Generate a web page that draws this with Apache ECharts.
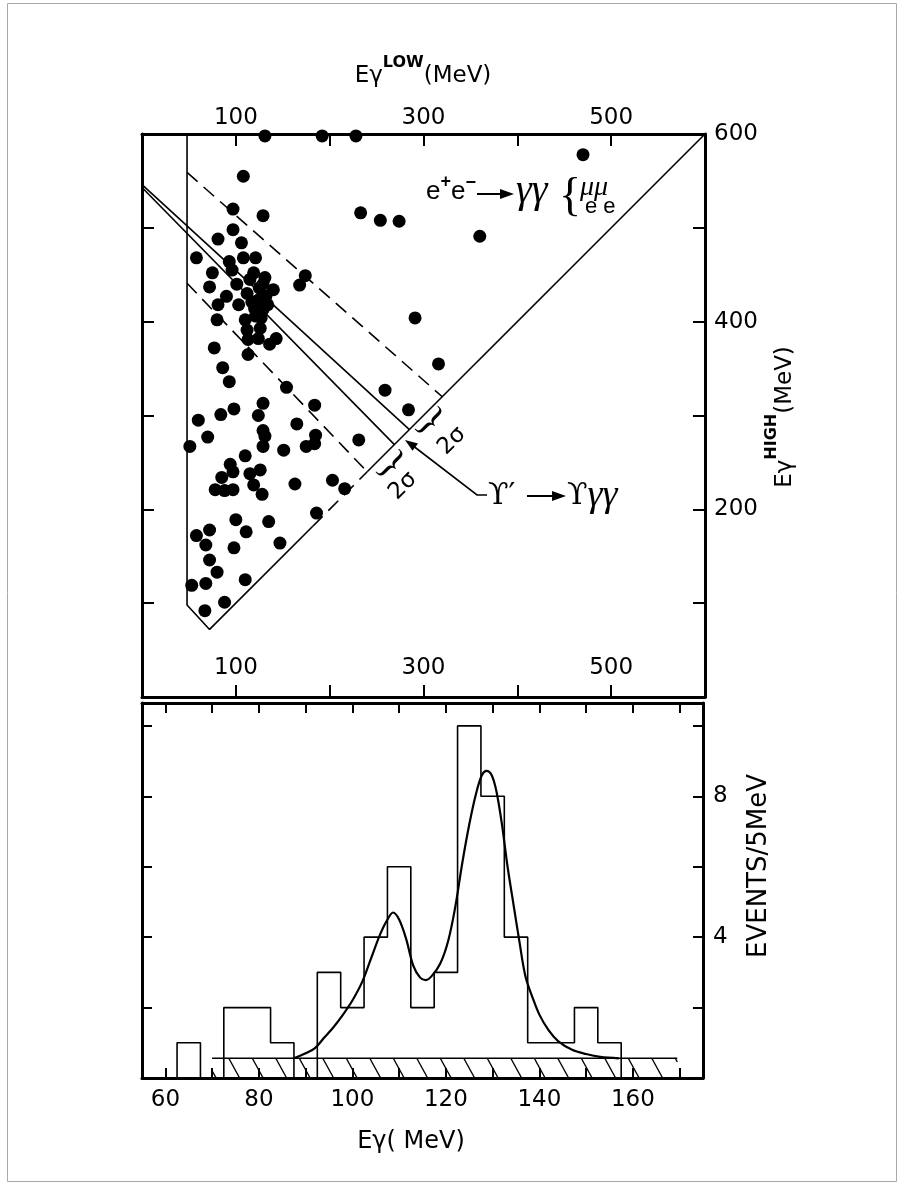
<!DOCTYPE html>
<html>
<head>
<meta charset="utf-8">
<script src="https://cdn.jsdelivr.net/npm/echarts@6.0.0/dist/echarts.min.js"></script>
<style>
html, body { margin: 0; padding: 0; background: #fff; }
#chart { width: 904px; height: 1185px; }
</style>
</head>
<body>
<div id="chart"></div>
<script>
// upper panel: E_gamma^LOW vs E_gamma^HIGH (MeV), one dot per event
var events = [
    [131,598],[192,598],[228,598],
    [470,578],[360,491],[291,404],[316,355],[284,306],
    [108,555],[97,520],[129,513],[233,516],[254,508],[274,507],
    [97,498],[81,488],[106,484],[58,468],
    [93,464],[108,468],[121,468],[96,455],[119,452],[101,440],[129,440],[140,434],
    [90,427],[112,430],[124,423],[81,418],[103,418],[120,414],[129,413],[110,402],
    [126,393],[112,391],[113,381],[124,382],[136,376],[143,382],[80,402],[75,452],
    [72,437],[113,365],[77,372],[86,351],[93,336],[154,330],[174,449],[168,439],
    [129,313],[98,307],[84,301],[124,300],[60,295],[184,311],[259,327],
    [129,284],[131,278],[129,267],[70,277],[51,267],[165,291],[185,279],[175,267],
    [184,270],[231,274],[151,263],[110,257],[94,248],[97,240],[85,234],[115,238],
    [126,242],[119,226],[128,216],[78,221],[88,220],[97,221],[163,227],[203,231],
    [216,222],[100,189],[135,187],[186,196],[111,176],[147,164],[58,172],[72,178],
    [68,162],[98,159],[72,146],[80,133],[110,125],[53,119],[68,121],[88,101],[67,92],
    [115,445],[125,436],[132,427],[117,421],[127,404],[134,418],[121,406],[131,447]
];

// kinematic boundary and the gamma-gamma bands (MeV)
var edgeSolid = [[48,600],[48,98],[72,72],[182,182]];
var edgeDashed = [[182,182],[240,240]];
var diagonal = [[240,240],[600,600]];
var bandUpperSolid = [[0,546],[285,285]];
var bandLowerSolid = [[0,543],[269,269]];
var bandUpperDashed = [[48,559],[320,320]];
var bandLowerDashed = [[48,441],[240,240]];

// lower panel: events / 5 MeV
var binCenters = [65,70,75,80,85,90,95,100,105,110,115,120,125,130,135,140,145,150,155];
var binCounts  = [1,0,2,2,1,0,3,2,4,6,2,3,10,8,4,1,1,2,1];
var binWidth = 5;
var fitE = [87.5,90,92,94,96,98,100,102,104,106,107.5,108.7,110,111.5,113,114.5,115.7,117,118.8,120.5,
            122,123.5,125,126.5,127.7,128.7,129.8,130.8,132,133.2,134.5,135.7,137,138.5,140,142,144,147,150,153,157];
var fitN = [0.56,0.7,0.85,1.15,1.45,1.8,2.2,2.7,3.4,4.1,4.5,4.7,4.5,3.95,3.2,2.85,2.78,2.9,3.25,3.9,
            4.85,6.1,7.2,8.1,8.6,8.72,8.6,8.15,7.2,6.0,4.9,3.9,2.9,2.3,1.8,1.35,1.05,0.8,0.68,0.6,0.56];
var background = [70, 169.5, 0.56];   // from, to, level

var xTicksLow = [60,70,80,90,100,110,120,130,140,150,160,170];
var xLabelsLow = [60,80,100,120,140,160];

var FONT = '"DejaVu Sans"';
var black = '#000';

function histOutline() {
    var pts = [[binCenters[0] - binWidth / 2, 0]];
    binCenters.forEach(function (c, i) {
        pts.push([c - binWidth / 2, binCounts[i]]);
        pts.push([c + binWidth / 2, binCounts[i]]);
    });
    pts.push([binCenters[binCenters.length - 1] + binWidth / 2, 0]);
    return pts;
}

function frameAxis(extra) {
    var base = {
        axisLine: { show: true, onZero: false, lineStyle: { color: black, width: 3 } },
        axisTick: { show: true, inside: true, length: 12, lineStyle: { color: black, width: 2 } },
        axisLabel: { show: false },
        splitLine: { show: false }
    };
    return echarts.util.merge(base, extra, true);
}

function pickLabel(list) {
    return function (v) { return list.indexOf(v) >= 0 ? String(v) : ''; };
}

function lineSeries(data, dashed, xi, yi) {
    return {
        type: 'line', data: data, xAxisIndex: xi || 0, yAxisIndex: yi || 0,
        showSymbol: false, symbol: 'none', silent: true, z: 3,
        lineStyle: { color: black, width: 1.6, type: dashed ? [14, 8] : 'solid' }
    };
}

// text made of several runs (for superscripts etc.)
var mctx = document.createElement('canvas').getContext('2d');
function fontOf(p) { return (p.style || '') + ' ' + p.size + 'px ' + (p.family || FONT); }
function runText(parts, cx, cy, rot, anchor) {
    var widths = parts.map(function (p) {
        mctx.font = fontOf(p);
        return mctx.measureText(p.t).width + (p.gap || 0);
    });
    var total = widths.reduce(function (a, b) { return a + b; }, 0);
    var x = anchor === 'left' ? 0 : -total / 2;
    var kids = [];
    parts.forEach(function (p, i) {
        kids.push({
            type: 'text', x: x, y: p.dy || 0,
            style: { text: p.t, font: fontOf(p), fill: black, textAlign: 'left',
                     textVerticalAlign: 'middle', verticalAlign: 'middle' }
        });
        x += widths[i];
    });
    return { type: 'group', x: cx, y: cy, rotation: rot || 0, children: kids, silent: true };
}
function glyph(t, font, x, y, rot) {
    return {
        type: 'text', x: x, y: y, rotation: rot || 0, silent: true,
        style: { text: t, font: font, fill: black, textAlign: 'center',
                 textVerticalAlign: 'middle', verticalAlign: 'middle' }
    };
}

var chart = echarts.init(document.getElementById('chart'));

var tickFont = { fontSize: 23, color: black, fontFamily: FONT };

chart.setOption({
    animation: false,
    backgroundColor: '#fff',
    textStyle: { fontFamily: FONT, color: black },
    grid: [
        { left: 142, top: 134, width: 563, height: 563, outerBoundsMode: 'none' },
        { left: 142, top: 703, width: 561, height: 375, outerBoundsMode: 'none' }
    ],
    xAxis: [
        frameAxis({ gridIndex: 0, type: 'value', position: 'bottom', min: 0, max: 600, interval: 100,
            axisLabel: echarts.util.extend({ show: true, inside: true, margin: 17,
                         formatter: pickLabel([100, 300, 500]) }, tickFont) }),
        frameAxis({ gridIndex: 0, type: 'value', position: 'top', min: 0, max: 600, interval: 100,
            axisLabel: echarts.util.extend({ show: true, margin: 4,
                         formatter: pickLabel([100, 300, 500]) }, tickFont) }),
        frameAxis({ gridIndex: 1, type: 'value', position: 'bottom', min: 55, max: 175,
            axisTick: { length: 10, customValues: xTicksLow },
            axisLabel: echarts.util.extend({ show: true, margin: 11,
                         customValues: xLabelsLow }, tickFont) }),
        frameAxis({ gridIndex: 1, type: 'value', position: 'top', min: 55, max: 175,
            axisTick: { length: 10, customValues: xTicksLow } })
    ],
    yAxis: [
        frameAxis({ gridIndex: 0, type: 'value', position: 'left', min: 0, max: 600, interval: 100 }),
        frameAxis({ gridIndex: 0, type: 'value', position: 'right', min: 0, max: 600, interval: 100,
            axisLabel: echarts.util.extend({ show: true, margin: 9,
                         formatter: pickLabel([200, 400, 600]) }, tickFont) }),
        frameAxis({ gridIndex: 1, type: 'value', position: 'left', min: 0, max: 10.65, interval: 2,
            axisTick: { length: 10 } }),
        frameAxis({ gridIndex: 1, type: 'value', position: 'right', min: 0, max: 10.65, interval: 2,
            axisTick: { length: 10 },
            axisLabel: echarts.util.extend({ show: true, margin: 10,
                         formatter: pickLabel([4, 8]) }, tickFont) })
    ],
    series: [
        {
            type: 'scatter', xAxisIndex: 0, yAxisIndex: 0, data: events,
            symbol: 'circle', symbolSize: 13, itemStyle: { color: black, opacity: 1 }, silent: true, z: 4
        },
        lineSeries(edgeSolid, false),
        lineSeries(edgeDashed, true),
        lineSeries(diagonal, false),
        lineSeries(bandUpperSolid, false),
        lineSeries(bandLowerSolid, false),
        lineSeries(bandUpperDashed, true),
        lineSeries(bandLowerDashed, true),
        {
            // hatched background level
            type: 'custom', xAxisIndex: 2, yAxisIndex: 2, silent: true, z: 2,
            data: [background],
            renderItem: function (params, api) {
                var a = api.coord([api.value(0), api.value(2)]);
                var b = api.coord([api.value(1), 0]);
                var x0 = a[0], y0 = a[1], x1 = b[0], y1 = b[1];
                var h = y1 - y0, slant = h * 0.55, step = 23.5;
                var kids = [{ type: 'line', shape: { x1: x0, y1: y0, x2: x1, y2: y0 },
                              style: { stroke: black, lineWidth: 1.6 } }];
                for (var s = x0 + 4 - slant; s < x1; s += step) {
                    var sx = s, sy = y0, ex = s + slant, ey = y1;
                    if (sx < x0) { sy = y0 + (x0 - sx) / slant * h; sx = x0; }
                    if (ex > x1) { ey = y0 + (x1 - s) / slant * h; ex = x1; }
                    if (ex <= sx) continue;
                    kids.push({ type: 'line', shape: { x1: sx, y1: sy, x2: ex, y2: ey },
                                style: { stroke: black, lineWidth: 1.4 } });
                }
                return { type: 'group', children: kids };
            }
        },
        lineSeries(histOutline(), false, 2, 2),
        {
            type: 'line', xAxisIndex: 2, yAxisIndex: 2, silent: true, z: 4,
            data: fitE.map(function (e, i) { return [e, fitN[i]]; }),
            showSymbol: false, symbol: 'none', smooth: 0.35,
            lineStyle: { color: black, width: 2.2 }
        }
    ],
    graphic: [
        { type: 'rect', silent: true, shape: { x: 7.5, y: 3.5, width: 889, height: 1178 },
          style: { fill: 'transparent', stroke: '#aaa', lineWidth: 1 } },

        // axis titles
        runText([{ t: 'Eγ', size: 23 }, { t: 'LOW', size: 16, dy: -13, style: 'bold' }, { t: '(MeV)', size: 23 }], 423, 76),
        runText([{ t: 'Eγ', size: 23 }, { t: 'HIGH', size: 16, dy: -13, style: 'bold' }, { t: '(MeV)', size: 23 }], 785, 417, Math.PI / 2),
        runText([{ t: 'EVENTS/5MeV', size: 26 }], 759, 866, Math.PI / 2),
        runText([{ t: 'Eγ', size: 24 }, { t: '( MeV)', size: 24 }], 411, 1142),

        // e+e- -> gamma gamma {mu mu / e e}
        runText([{ t: 'e', size: 26, family: '"Liberation Sans"' }, { t: '+', size: 18, dy: -10, style: 'bold', family: '"Liberation Sans"' },
                 { t: 'e', size: 26, family: '"Liberation Sans"' }, { t: '−', size: 18, dy: -9, style: 'bold', family: '"Liberation Sans"' }], 426, 192, 0, 'left'),
        { type: 'line', silent: true, shape: { x1: 477, y1: 194, x2: 504, y2: 194 }, style: { stroke: black, lineWidth: 2 } },
        { type: 'polygon', silent: true, shape: { points: [[500, 189], [514, 194], [500, 199]] }, style: { fill: black } },
        runText([{ t: 'γγ', size: 40, style: 'italic', family: '"Liberation Serif"' }], 516, 191, 0, 'left'),
        glyph('{', '46px "Liberation Serif"', 570, 198),
        runText([{ t: 'μμ', size: 28, style: 'italic', family: '"Liberation Serif"' }], 580, 188, 0, 'left'),
        runText([{ t: 'e e', size: 22, family: '"Liberation Sans"' }], 585, 207, 0, 'left'),

        // 2 sigma braces
        glyph('}', '40px "Liberation Serif"', 430, 422, -Math.PI / 4),
        glyph('2σ', '23px ' + FONT, 452, 441, Math.PI / 4),
        glyph('}', '40px "Liberation Serif"', 391, 465, -Math.PI / 4),
        glyph('2σ', '23px ' + FONT, 403, 486, Math.PI / 4),

        // Upsilon' -> Upsilon gamma gamma
        { type: 'polyline', silent: true, shape: { points: [[487, 495], [477, 495], [412, 445]] },
          style: { stroke: black, lineWidth: 1.6, fill: null } },
        { type: 'polygon', silent: true, shape: { points: [[405, 440], [418, 443.5], [412.5, 450.7]] }, style: { fill: black } },
        runText([{ t: 'ϒ′', size: 30, family: '"DejaVu Serif"' }], 488, 496, 0, 'left'),
        { type: 'line', silent: true, shape: { x1: 527, y1: 496, x2: 556, y2: 496 }, style: { stroke: black, lineWidth: 2 } },
        { type: 'polygon', silent: true, shape: { points: [[552, 491], [566, 496], [552, 501]] }, style: { fill: black } },
        runText([{ t: 'ϒ', size: 30, family: '"DejaVu Serif"' }, { t: 'γγ', size: 38, style: 'italic', family: '"Liberation Serif"' }], 567, 496, 0, 'left')
    ]
});
</script>
</body>
</html>
